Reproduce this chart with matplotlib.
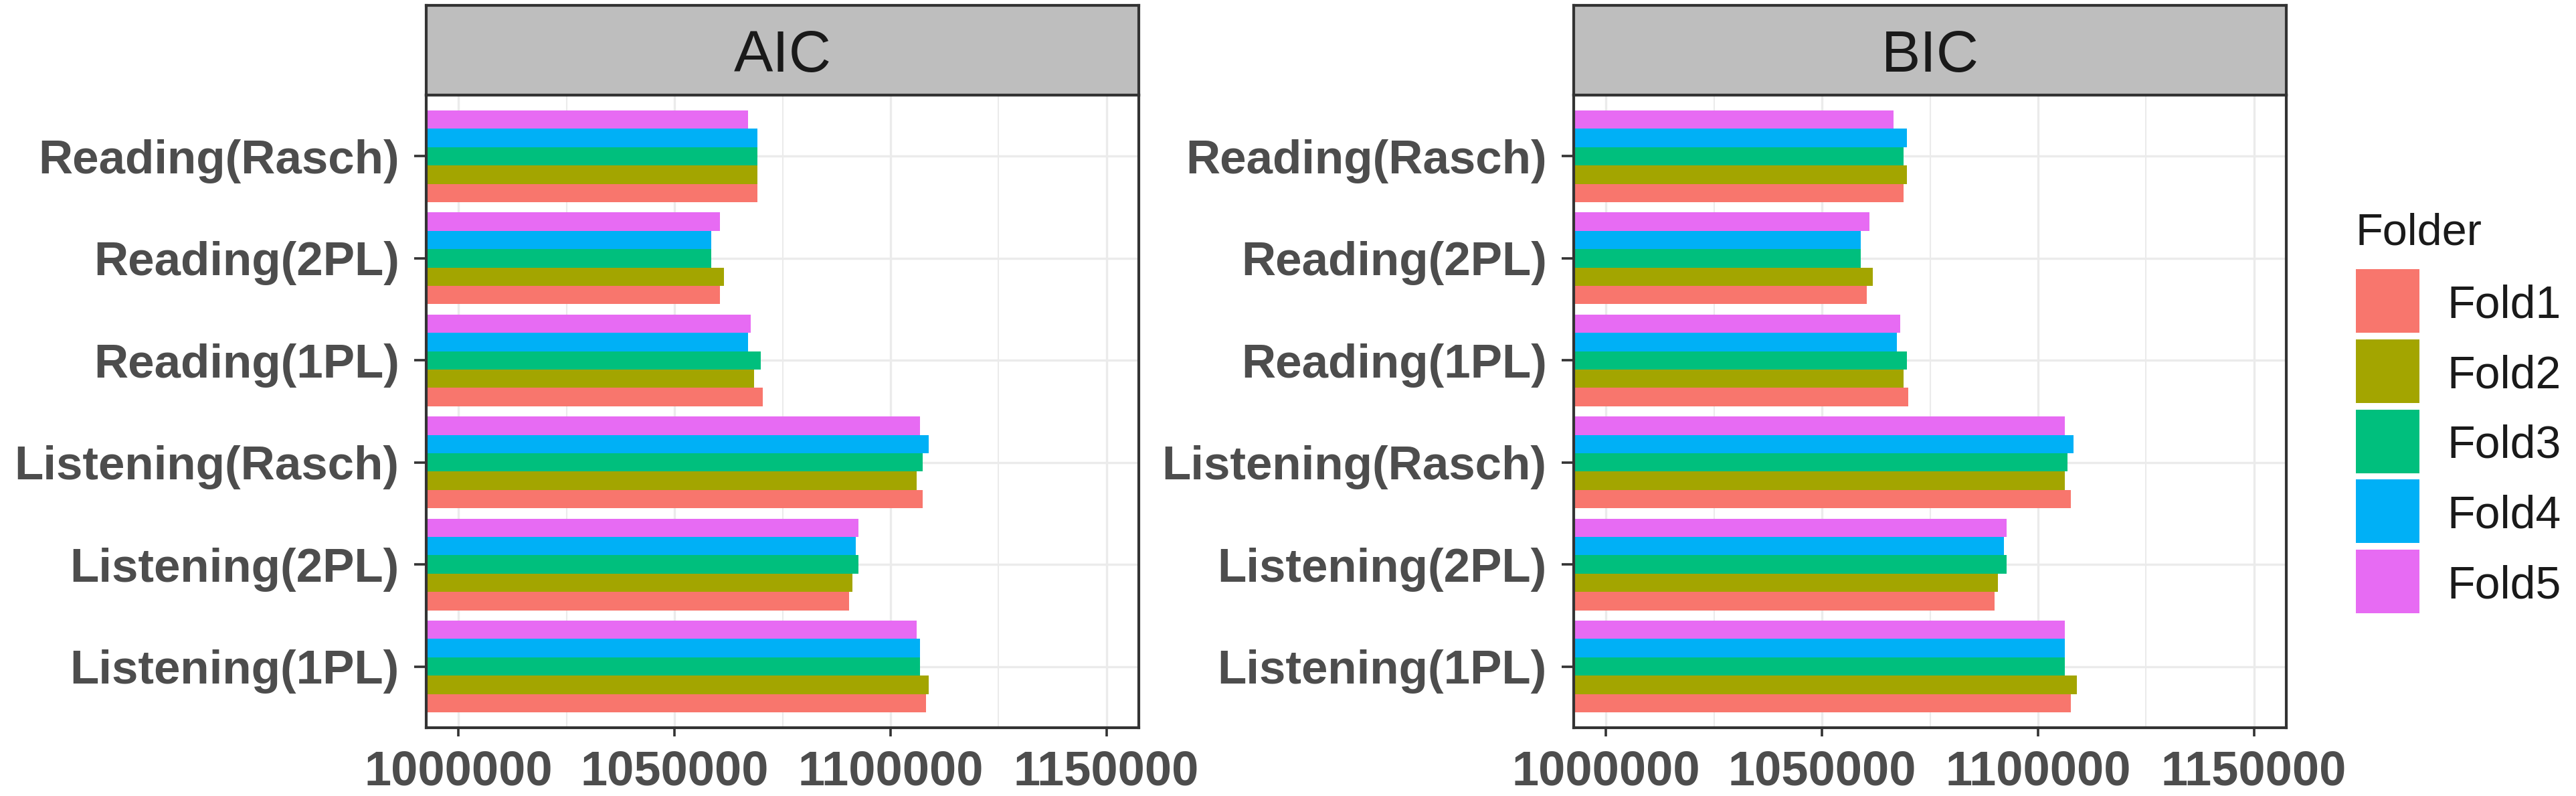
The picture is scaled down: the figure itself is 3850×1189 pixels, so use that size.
import matplotlib
matplotlib.use("Agg")
import matplotlib.pyplot as plt
from matplotlib.patches import Rectangle
import numpy as np

plt.rcParams['font.family'] = ['Liberation Sans', 'DejaVu Sans']

categories = ["Listening(1PL)", "Listening(2PL)", "Listening(Rasch)",
              "Reading(1PL)", "Reading(2PL)", "Reading(Rasch)"]
folds = ["Fold1", "Fold2", "Fold3", "Fold4", "Fold5"]
fold_colors = ["#F8766D", "#A3A500", "#00BF7D", "#00B0F6", "#E76BF3"]
panels = ["AIC", "BIC"]

# values per fold, in category order above
aic_fold1 = [1108210, 1090340, 1107480, 1070480, 1060590, 1069160]
aic_fold2 = [1108880, 1091230, 1106030, 1068380, 1061370, 1069160]
aic_fold3 = [1106810, 1092630, 1107480, 1069940, 1058520, 1069160]
aic_fold4 = [1106810, 1091900, 1108880, 1066980, 1058520, 1069160]
aic_fold5 = [1106030, 1092630, 1106810, 1067710, 1060590, 1066980]

bic_fold1 = [1107540, 1089980, 1107540, 1070000, 1060330, 1068840]
bic_fold2 = [1108930, 1090670, 1106150, 1068840, 1061770, 1069610]
bic_fold3 = [1106150, 1092720, 1106860, 1069610, 1058930, 1068840]
bic_fold4 = [1106150, 1092060, 1108200, 1067380, 1058930, 1069610]
bic_fold5 = [1106150, 1092720, 1106150, 1068070, 1060990, 1066610]

data = {
    "AIC": [aic_fold1, aic_fold2, aic_fold3, aic_fold4, aic_fold5],
    "BIC": [bic_fold1, bic_fold2, bic_fold3, bic_fold4, bic_fold5],
}

x_ticks = [1000000, 1050000, 1100000, 1150000]
x_minor = [1025000, 1075000, 1125000]

W, H = 3850, 1189
fig = plt.figure(figsize=(W / 100, H / 100), dpi=100)
fig.patch.set_facecolor("white")

def fx(px):
    return px / W

def fy(py):
    return 1 - py / H

panel_left = [637, 2352]
panel_w = 1065
panel_top, panel_bot = 142, 1087
strip_top = 8

dark = "#333333"
grid_c = "#EBEBEB"
txt_grey = "#4D4D4D"

n_cat = len(categories)
n_f = len(folds)
group_w = 0.9
bar_h = group_w / n_f
pos = np.arange(1, n_cat + 1)

for pi, name in enumerate(panels):
    x0 = panel_left[pi]
    ax = fig.add_axes([fx(x0), fy(panel_bot), panel_w / W, (panel_bot - panel_top) / H])
    ax.set_facecolor("white")
    for fi in range(n_f):
        offs = -group_w / 2 + bar_h / 2 + fi * bar_h
        ax.barh(pos + offs, data[name][fi], height=bar_h, color=fold_colors[fi],
                edgecolor="none", zorder=3)
    ax.set_xlim(992500, 1157500)
    ax.set_ylim(0.4, n_cat + 0.6)
    ax.set_xticks(x_ticks)
    ax.set_xticklabels([str(t) for t in x_ticks])
    ax.set_xticks(x_minor, minor=True)
    ax.set_yticks(pos)
    ax.set_yticklabels(categories)
    ax.grid(True, which="major", color=grid_c, linewidth=2.4, zorder=0)
    ax.grid(True, which="minor", axis="x", color=grid_c, linewidth=1.5, zorder=0)
    ax.set_axisbelow(True)
    for s in ax.spines.values():
        s.set_color(dark)
        s.set_linewidth(3.0)
        s.set_zorder(5)
    ax.tick_params(axis="x", which="major", length=9.5, width=2.6, color=dark,
                   pad=14, labelsize=52, labelcolor=txt_grey)
    ax.tick_params(axis="x", which="minor", length=0)
    ax.tick_params(axis="y", which="major", length=13, width=2.6, color=dark,
                   pad=16, labelsize=51, labelcolor=txt_grey)
    for lab in ax.get_xticklabels() + ax.get_yticklabels():
        lab.set_fontweight("bold")

    # facet strip
    sax = fig.add_axes([fx(x0), fy(panel_top), panel_w / W, (panel_top - strip_top) / H])
    sax.set_facecolor("#BEBEBE")
    sax.set_xticks([])
    sax.set_yticks([])
    for s in sax.spines.values():
        s.set_color(dark)
        s.set_linewidth(3.0)
    sax.text(0.5, 0.5, name, transform=sax.transAxes, ha="center", va="center_baseline",
             fontsize=63, color="#1A1A1A")

# legend
leg_x = 3521
key_size = 95
key_pitch = 104.75
key_top0 = 402
fig.text(fx(3520), fy(366), "Folder", ha="left", va="baseline", fontsize=48, color="#1A1A1A")
for fi, (lab, col) in enumerate(zip(folds, fold_colors)):
    top = key_top0 + fi * key_pitch
    fig.add_artist(Rectangle((fx(leg_x), fy(top + key_size)), key_size / W, key_size / H,
                             transform=fig.transFigure, facecolor=col, edgecolor="none"))
    fig.text(fx(3657), fy(top + key_size / 2), lab, ha="left", va="center_baseline",
             fontsize=49, color="#1A1A1A")

fig.savefig("out.png", dpi=100, facecolor="white")
